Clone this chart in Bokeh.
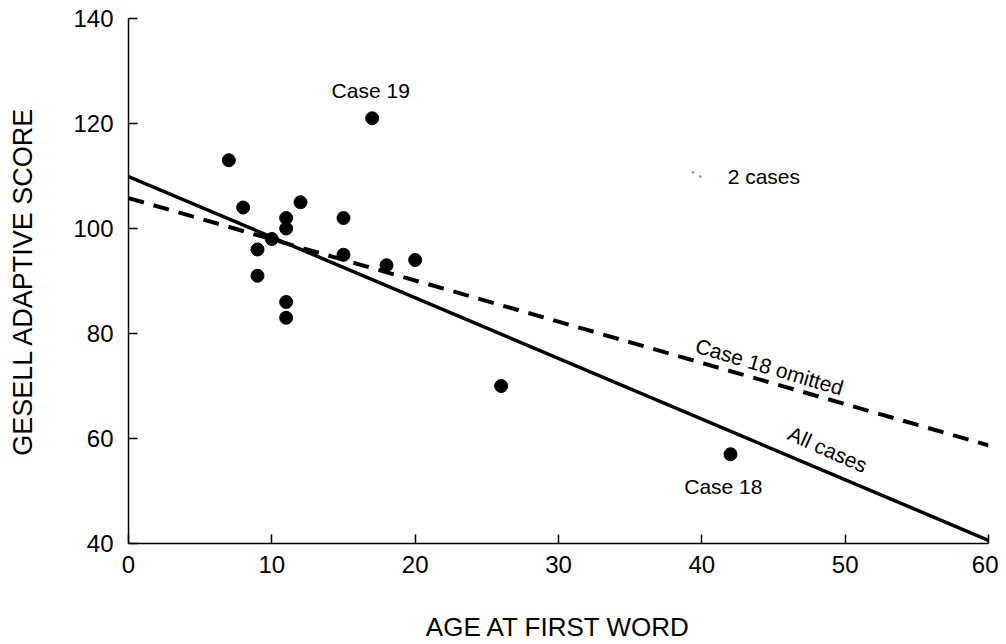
from bokeh.plotting import figure
from bokeh.models import Range1d, FixedTicker, Label
from bokeh.embed import file_html
from bokeh.resources import INLINE
import math

# data
ages = [7, 8, 9, 9, 10, 11, 11, 11, 11, 12, 15, 15, 17, 18, 20, 26, 42]
scores = [113, 104, 96, 91, 98, 102, 100, 86, 83, 105, 102, 95, 121, 93, 94, 70, 57]

line_x = [0, 60]
all_cases_y = [109.9, 40.6]
omit18_y = [105.8, 58.7]

x_ticks = [0, 10, 20, 30, 40, 50, 60]
y_ticks = [40, 60, 80, 100, 120, 140]

FONT = "Liberation Sans"

p = figure(width=998, height=644, output_backend="svg", toolbar_location=None,
           x_range=Range1d(0, 60), y_range=Range1d(40, 140),
           min_border_left=128, min_border_right=10, min_border_top=18,
           min_border_bottom=100)
p.outline_line_color = None
p.xgrid.visible = False
p.ygrid.visible = False

for ax in (p.xaxis, p.yaxis):
    ax.axis_line_color = "black"
    ax.axis_line_width = 1.5
    ax.major_tick_in = 9
    ax.major_tick_out = 0
    ax.major_tick_line_width = 1.5
    ax.major_tick_line_color = "black"
    ax.minor_tick_line_color = None
    ax.major_label_text_font = FONT
    ax.major_label_text_font_size = "24px"
    ax.major_label_text_color = "black"
    ax.axis_label_text_font = FONT
    ax.axis_label_text_font_style = "normal"
    ax.axis_label_text_color = "black"

p.xaxis.ticker = FixedTicker(ticks=x_ticks)
p.yaxis.ticker = FixedTicker(ticks=y_ticks)
p.xaxis.major_label_standoff = 12
p.yaxis.major_label_standoff = 15
p.xaxis.axis_label = "AGE AT FIRST WORD"
p.yaxis.axis_label = "GESELL ADAPTIVE SCORE"
p.xaxis.axis_label_text_font_size = "26px"
p.yaxis.axis_label_text_font_size = "27px"
p.xaxis.axis_label_standoff = 36
p.yaxis.axis_label_standoff = 32

# regression lines
p.line(line_x, all_cases_y, line_color="black", line_width=3.5)
p.line(line_x, omit18_y, line_color="black", line_width=4, line_dash="16 10")

# points
p.scatter(ages, scores, size=13, marker="circle", fill_color="black", line_color="black")

# faint legend symbol
p.scatter([39.4, 39.9], [110.7, 109.9], size=2, marker="circle",
          fill_color="#999999", line_color="#999999")

def lab(x, y, t, angle=0.0, align="left", size="21px"):
    p.add_layout(Label(x=x, y=y, text=t, angle=math.radians(angle),
                       text_align=align, text_baseline="middle",
                       text_font=FONT, text_font_size=size, text_color="black"))

lab(16.9, 126.3, "Case 19", align="center")
lab(41.8, 109.9, "2 cases")
lab(39.6, 77.8, "Case 18 omitted", angle=-16.5)
lab(46.1, 61.2, "All cases", angle=-24)
lab(41.5, 50.8, "Case 18", align="center")

open("out.html", "w").write(file_html(p, INLINE))
